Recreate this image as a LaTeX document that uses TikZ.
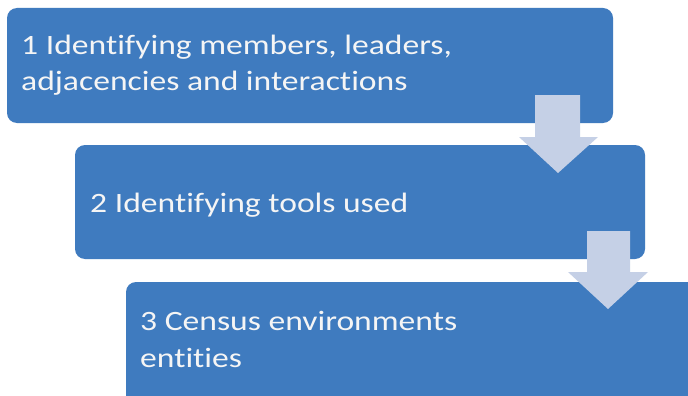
\documentclass[tikz,border=0pt]{standalone}
\usepackage{fontspec}
\setmainfont{Carlito}
\newfontfamily\widefont[FakeStretch=1.2,Ligatures=NoCommon]{Carlito}
\definecolor{boxblue}{HTML}{3F7BBF}
\definecolor{arrowgrey}{HTML}{C5D0E6}
\begin{document}
\begin{tikzpicture}[x=1pt,y=-1pt,
  stepbox/.style={draw=none,fill=boxblue,rounded corners=10pt},
  boxtext/.style={anchor=base west,inner sep=0pt,text=white!96!black,font=\widefont\fontsize{28}{35}\selectfont},
  downarrow/.style={fill=arrowgrey,draw=none}]
\useasboundingbox (0,0) rectangle (688,396);
\fill[white] (0,0) rectangle (688,396);
% boxes
\path[stepbox] (7,8) rectangle (613,123);
\path[stepbox] (75,145) rectangle (645,259);
\path[stepbox] (126,282) rectangle (700,410);
% texts
\node[boxtext] (t1a) at (21,55) {1 Identifying members, leaders,};
\node[boxtext] (t1b) at (21,91) {adjacencies and interactions};
\node[boxtext] (t2) at (90,212) {2 Identifying tools used};
\node[boxtext] (t3a) at (140,330) {3 Census environments};
\node[boxtext] (t3b) at (140,367) {entities};
% arrows
\path[downarrow] (535,95) -- (580,95) -- (580,137) -- (598,137) -- (558,173) -- (519,137) -- (535,137) -- cycle;
\path[downarrow] (587,231) -- (630,231) -- (630,272) -- (648,272) -- (608,309) -- (568,272) -- (587,272) -- cycle;
\end{tikzpicture}
\end{document}
